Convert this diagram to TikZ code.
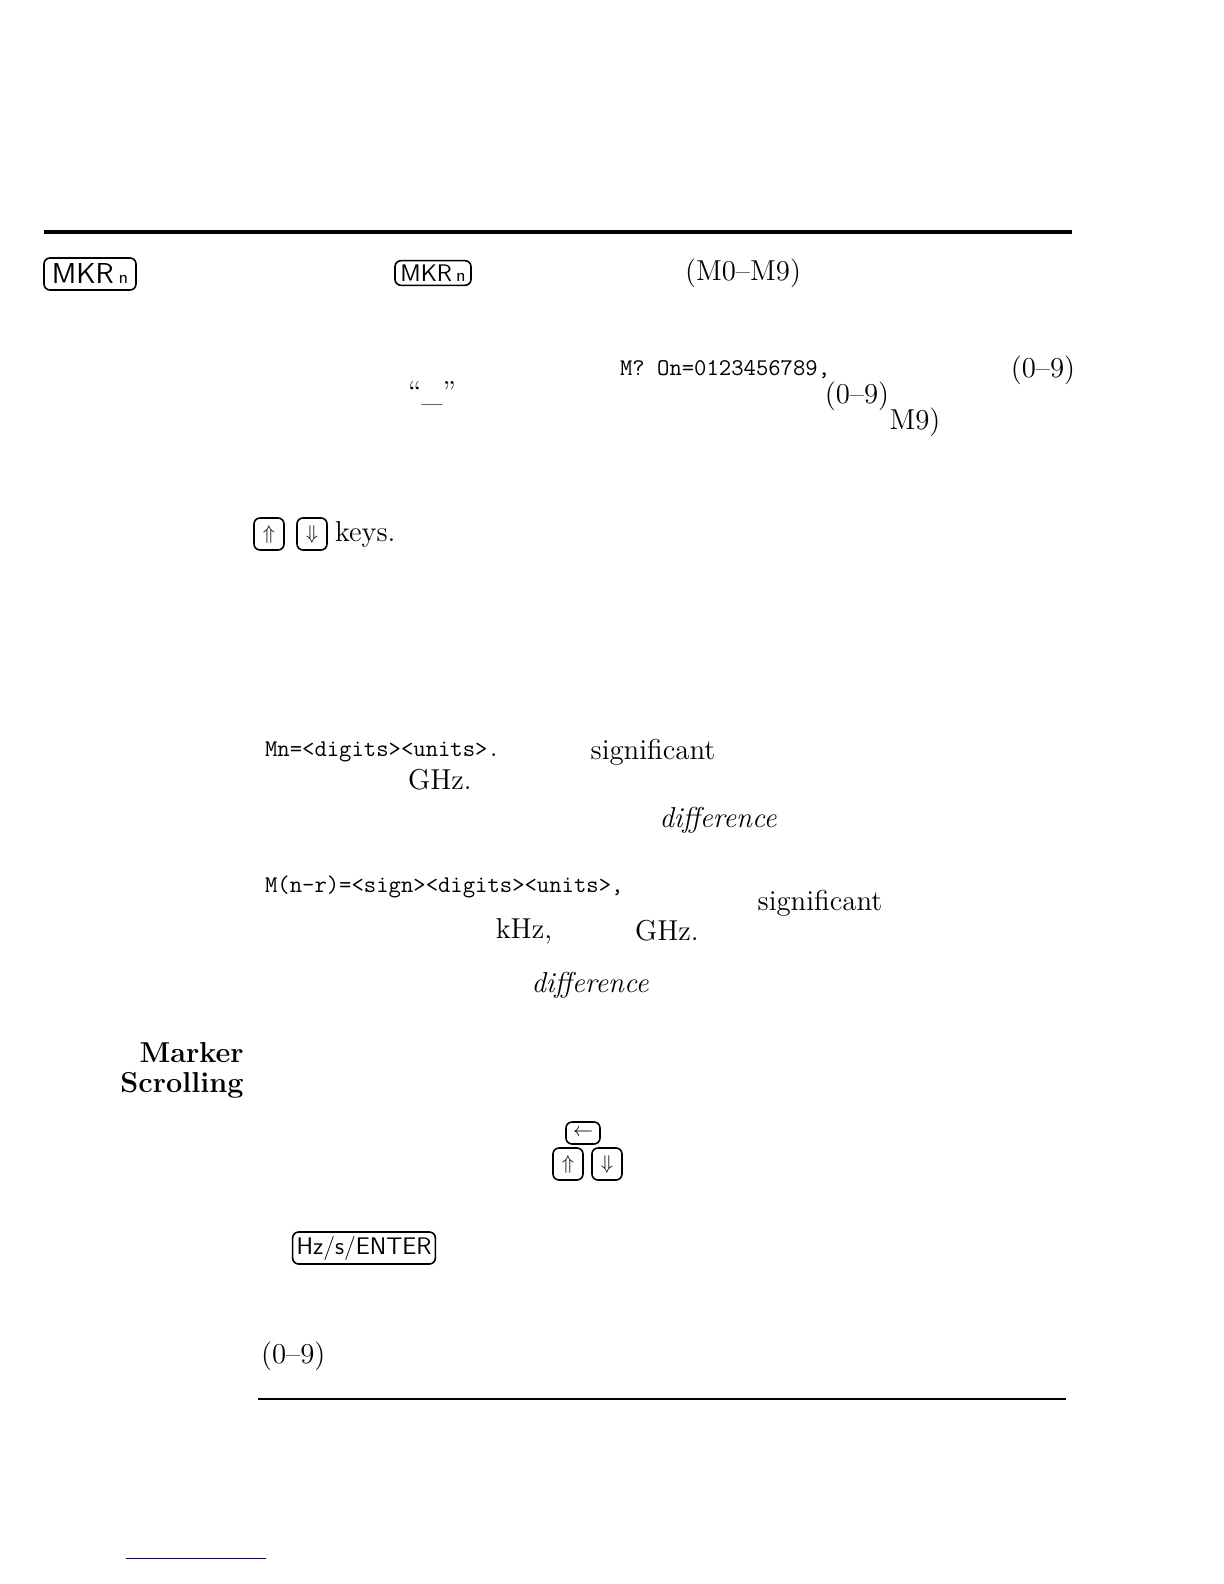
\documentclass[tikz,border=0pt]{standalone}
\usepackage{amssymb}
\usetikzlibrary{positioning}
\tikzset{
  key/.style={draw,thick,rounded corners=3pt,inner sep=2pt,font=\sffamily\large},
  arrowkey/.style={draw,thick,rounded corners=3pt,inner sep=1pt,minimum width=15pt,minimum height=16pt},
  body/.style={font=\Large},
  lcd/.style={font=\ttfamily\large,anchor=west}
}
\begin{document}
\begin{tikzpicture}[x=0.5pt,y=-0.5pt]
\useasboundingbox (0,0) rectangle (1224,1584);
% rules
\draw[line width=2pt] (44,232) -- (1072,232);
\draw[semithick] (258,1399) -- (1066,1399);
\draw[blue!60!black] (126,1558) -- (266,1558);

% keys
\node[key,minimum width=46pt,minimum height=16pt,font=\sffamily\Large] (mkrA) at (90,274) {MKR\,{\small n}};
\node[key,minimum width=38pt,minimum height=12pt] (mkrB) at (433,273) {MKR\,{\small n}};
\node[body] (mrange) at (743,273) {(M0--M9)};

\node[lcd] (query) at (613,370) {M? On=0123456789,};
\node[body] (rngA) at (1043,370) {(0--9)};
\node[body] (under) at (432,393) {``\_''};
\node[body] (rngB) at (857,396) {(0--9)};
\node[body] (mnine) at (915,422) {M9)};

\node[arrowkey] (upA) at (269,534) {$\Uparrow$};
\node[arrowkey] (dnA) at (312,534) {$\Downarrow$};
\node[body,anchor=west] (keys) at (328,534) {keys.};

\node[lcd] (mnread) at (258,752) {Mn=<digits><units>.};
\node[body] (sigA) at (653,752) {significant};
\node[body] (ghzA) at (440,780) {GHz.};
\node[body,font=\Large\itshape] (diffA) at (718,820) {difference};

\node[lcd] (mnrread) at (258,887) {M(n-r)=<sign><digits><units>,};
\node[body] (sigB) at (820,903) {significant};
\node[body] (khz) at (524,931) {kHz,};
\node[body] (ghzB) at (667,931) {GHz.};
\node[body,font=\Large\itshape] (diffB) at (590,985) {difference};

\node[font=\Large\bfseries,anchor=east,inner sep=0pt] (marker) at (244,1053) {Marker};
\node[font=\Large\bfseries,anchor=east,inner sep=0pt] (scroll) at (244,1085) {Scrolling};

\node[arrowkey,minimum width=17pt,minimum height=11pt] (back) at (583,1133) {$\leftarrow$};
\node[arrowkey] (upB) at (568,1164) {$\Uparrow$};
\node[arrowkey] (dnB) at (607,1164) {$\Downarrow$};

\node[key,minimum width=62pt,minimum height=13pt] (enter) at (364,1248) {Hz/s/ENTER};
\node[body,anchor=west] (rngC) at (254,1356) {(0--9)};
\end{tikzpicture}
\end{document}
